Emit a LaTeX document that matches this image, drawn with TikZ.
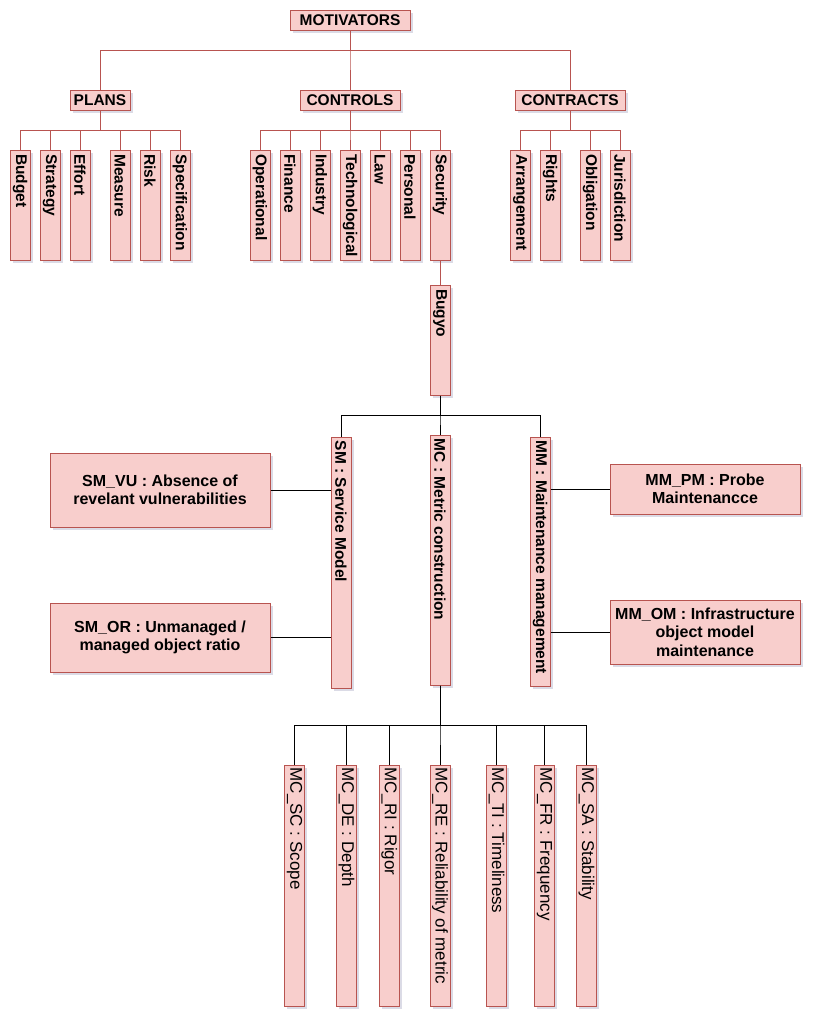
\documentclass[tikz,border=0pt]{standalone}
\usepackage{fontspec}
\setmainfont{Liberation Sans}
\usetikzlibrary{shadows}

\definecolor{boxfill}{HTML}{F8CECC}
\definecolor{boxline}{HTML}{B85450}
\definecolor{shade}{HTML}{B0B0C8}

\tikzset{
  box/.style={draw=boxline, fill=boxfill, line width=1pt, inner sep=0pt,
    drop shadow={shadow xshift=2.5pt, shadow yshift=-2.5pt, fill=shade, opacity=0.45}},
  headbox/.style={box, minimum height=20pt, minimum width=#1,
    font=\fontsize{15.5}{18}\selectfont\bfseries},
  vbox/.style={box, minimum width=20pt, minimum height=#1},
  descbox/.style={box, align=center,
    font=\fontsize{16}{18.5}\selectfont\bfseries},
  vtext/.style={rotate=-90, anchor=west, inner sep=0pt,
    font=\fontsize{15.5}{18}\selectfont\bfseries},
  mtext/.style={rotate=-90, anchor=west, inner sep=0pt,
    font=\fontsize{17}{20}\selectfont},
  redline/.style={draw=boxline, line width=1pt},
  blackline/.style={draw=black, line width=1pt},
}

\begin{document}
\begin{tikzpicture}[x=1pt, y=-1pt]
\useasboundingbox (0,0) rectangle (822,1029);

% top level
\node[headbox=120pt] (mot) at (350,20) {MOTIVATORS};
\node[headbox=60pt] (plans) at (100,100) {PLANS};
\node[headbox=100pt] (controls) at (350,100) {CONTROLS};
\node[headbox=110pt] (contracts) at (570,100) {CONTRACTS};

\foreach \g in {plans, controls, contracts}
  \draw[redline] (mot.south) -- ++(0,20) -| (\g.north);

% second level: plans, controls, contracts
\foreach \n/\x/\t in {budget/20/Budget, strategy/50/Strategy, effort/80/Effort,
    measure/120/Measure, risk/150/Risk, spec/180/Specification} {
  \node[vbox=110pt] (\n) at (\x,205) {};
  \node[vtext] (\n-t) at ([yshift=-4.5pt]\n.north) {\t};
  \draw[redline] (plans.south) -- ++(0,20) -| (\n.north);
}
\foreach \n/\x/\t in {operational/260/Operational, finance/290/Finance,
    industry/320/Industry, techno/350/Technological, law/380/Law,
    personal/410/Personal, security/440/Security} {
  \node[vbox=110pt] (\n) at (\x,205) {};
  \node[vtext] (\n-t) at ([yshift=-4.5pt]\n.north) {\t};
  \draw[redline] (controls.south) -- ++(0,20) -| (\n.north);
}
\foreach \n/\x/\t in {arrangement/520/Arrangement, rights/550/Rights,
    obligation/590/Obligation, jurisdiction/620/Jurisdiction} {
  \node[vbox=110pt] (\n) at (\x,205) {};
  \node[vtext] (\n-t) at ([yshift=-4.5pt]\n.north) {\t};
  \draw[redline] (contracts.south) -- ++(0,20) -| (\n.north);
}

% Bugyo
\node[vbox=110pt] (bugyo) at (440,340) {};
\node[vtext] (bugyo-t) at ([yshift=-4.5pt]bugyo.north) {Bugyo};
\draw[redline] (security.south) -- (bugyo.north);

% Bugyo components
\node[vbox=251pt] (sm) at (341,562.5) {};
\node[vtext] (sm-t) at ([yshift=-4pt]sm.north) {SM : Service Model};
\node[vbox=250pt] (mc) at (440,560) {};
\node[vtext] (mc-t) at ([yshift=-4pt]mc.north) {MC : Metric construction};
\node[vbox=249pt] (mm) at (540,561.5) {};
\node[vtext] (mm-t) at ([yshift=-4pt]mm.north) {MM : Maintenance management};
\foreach \c in {sm, mc, mm}
  \draw[blackline] (bugyo.south) -- ++(0,20) -| (\c.north);

% service model metrics
\node[descbox, minimum width=220pt, minimum height=74pt] (smvu) at (160,490)
  {SM\_VU : Absence of\\revelant vulnerabilities};
\node[descbox, minimum width=220pt, minimum height=69pt] (smor) at (160,637.5)
  {SM\_OR : Unmanaged /\\managed object ratio};
\draw[blackline] (smvu.east) -- (smvu.east -| sm.west);
\draw[blackline] (smor.east) -- (smor.east -| sm.west);

% maintenance management metrics
\node[descbox, minimum width=190pt, minimum height=50pt] (mmpm) at (705,489)
  {MM\_PM : Probe\\Maintenancce};
\node[descbox, minimum width=190pt, minimum height=64pt] (mmom) at (705,632)
  {MM\_OM : Infrastructure\\object model\\maintenance};
\draw[blackline] (mmpm.west) -- (mmpm.west -| mm.east);
\draw[blackline] (mmom.west) -- (mmom.west -| mm.east);

% metric construction criteria
\foreach \n/\x/\t in {mcsc/294.5/{MC\_SC : Scope}, mcde/346.5/{MC\_DE : Depth},
    mcri/389.3/{MC\_RI : Rigor}, mcre/440/{MC\_RE : Reliability of metric},
    mcti/496.5/{MC\_TI : Timeliness}, mcfr/544.5/{MC\_FR : Frequency},
    mcsa/586.5/{MC\_SA : Stability}} {
  \node[vbox=241pt] (\n) at (\x,885.5) {};
  \node[mtext] (\n-t) at ([yshift=-3pt]\n.north) {\t};
  \draw[blackline] (mc.south) -- ++(0,40) -| (\n.north);
}
\end{tikzpicture}
\end{document}
